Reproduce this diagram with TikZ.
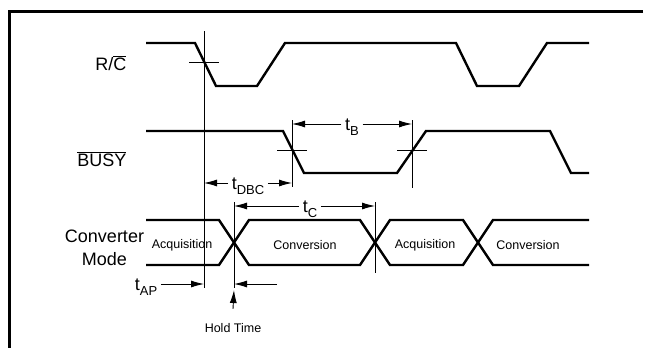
\documentclass[tikz,border=0pt]{standalone}
\usepackage{fontspec}
\setmainfont{Liberation Sans}
\usetikzlibrary{arrows.meta}

\newcommand{\tlbl}[1]{t\raisebox{-5.5pt}{\fontsize{13}{13}\selectfont #1}}

\begin{document}
\begin{tikzpicture}[x=1pt,y=-1pt,
    wave/.style={line width=2.4pt},
    guide/.style={line width=0.9pt},
    dim/.style={line width=0.9pt,-{Latex[length=13pt,width=7pt]}},
    big/.style={font=\fontsize{18}{23}\selectfont},
    small/.style={font=\fontsize{12.5}{14}\selectfont},
    tlab/.style={big,text height=12pt,text depth=0pt,inner sep=3.5pt}]
    \useasboundingbox (0,0) rectangle (645,348);
    \clip (0,0) rectangle (645,348);

    \draw [line width=2.6pt] (643,11.3) -- (9.3,11.3) -- (9.3,348);

    % signal names
    \node [big,anchor=base east] (rcname) at (130,70) {R/$\overline{\hbox{C}}$};
    \node [big,anchor=base east] (busyname) at (130,166) {$\overline{\hbox{BUSY}}$};
    \node [big,align=center] (modename) at (104.5,247.5) {Converter\\Mode};

    % waveforms
    \draw [wave] (146,43) -- (195,43) -- (216,86) -- (257,86) -- (285,43)
      -- (456,43) -- (477,86) -- (519,86) -- (547,43) -- (589,43);
    \draw [wave] (146,131) -- (283,131) -- (304,173) -- (397,173) -- (426,131)
      -- (550,131) -- (571,173) -- (589,173);
    \draw [wave] (146,220) -- (219,220) -- (249,265) -- (360,265) -- (390,220)
      -- (463,220) -- (493,265) -- (589,265);
    \draw [wave] (146,265) -- (219,265) -- (249,220) -- (360,220) -- (390,265)
      -- (463,265) -- (493,220) -- (589,220);

    \foreach \x/\name/\txt in {182/acq1/Acquisition,305/conv1/Conversion,
                               425/acq2/Acquisition,528/conv2/Conversion}
      \node [small] (\name) at (\x,245) {\txt};

    % reference lines and crossing ticks
    \draw [guide] (204,31) -- (204,288);
    \draw [guide] (234,202) -- (234,288);
    \draw [guide] (375,202) -- (375,273);
    \foreach \x/\y in {204/62,292/150,412/150} {
      \draw [guide] (\x-15,\y) -- (\x+15,\y);
    }
    \draw [guide] (292,120) -- (292,187);
    \draw [guide] (412,120) -- (412,188);

    % arrow ends
    \coordinate (tBl) at (292,124);
    \coordinate (tBr) at (412,124);
    \coordinate (tDBCl) at (204,183);
    \coordinate (tDBCr) at (292,183);
    \coordinate (tCl) at (234,206);
    \coordinate (tCr) at (375,206);
    \coordinate (tAPr) at (204,284);
    \coordinate (holdr) at (277,284);
    \coordinate (holdl) at (234,284);
    \coordinate (holdtip) at (234,290);

    % timing labels
    \node [tlab] (tB) at (352,124) {\tlbl{B}};
    \draw [dim] (tB.west) -- (tBl);
    \draw [dim] (tB.east) -- (tBr);

    \node [tlab] (tDBC) at (248,183) {\tlbl{DBC}};
    \draw [dim] (tDBC.west) -- (tDBCl);
    \draw [dim] (tDBC.east) -- (tDBCr);

    \node [tlab] (tC) at (310,206) {\tlbl{C}};
    \draw [dim] (tC.west) -- (tCl);
    \draw [dim] (tC.east) -- (tCr);

    \node [tlab] (tAP) at (146,284) {\tlbl{AP}};
    \draw [dim] (tAP.east) -- (tAPr);

    \node [small] (hold) at (233,328) {Hold Time};
    \draw [dim] ([yshift=11pt]hold.north) -- (holdtip);
    \draw [dim] (holdr) -- (holdl);
  \end{tikzpicture}
\end{document}
